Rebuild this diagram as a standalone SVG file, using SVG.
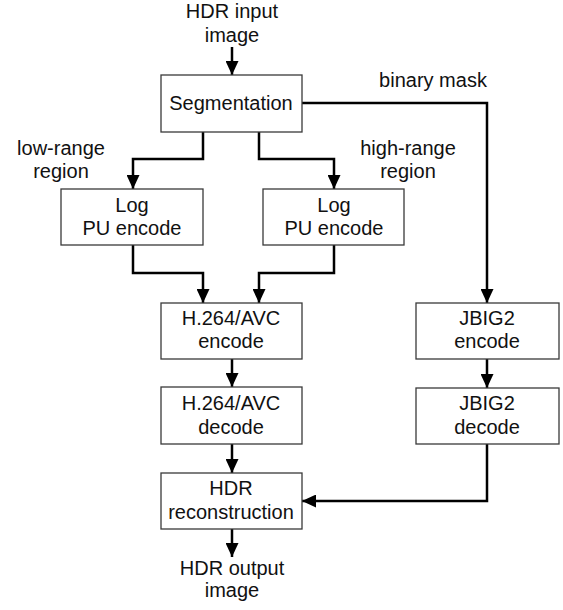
<svg xmlns="http://www.w3.org/2000/svg" width="563" height="610" viewBox="0 0 563 610">
<style>
.box{fill:#fff;stroke:#3a3a3a;stroke-width:1.3}
.t{font-family:"Liberation Sans",Arial,sans-serif;font-size:20px;fill:#111;text-anchor:middle}
.c{fill:none;stroke:#000;stroke-width:2.5}
</style>
<defs>
<marker id="ah" markerWidth="14" markerHeight="13" refX="14" refY="6.5" orient="auto" markerUnits="userSpaceOnUse">
<path d="M0,0 L14,6.5 L0,13 Z" fill="#000"/>
</marker>
</defs>
<g id="connectors">
<path class="c" d="M232,47 V75" marker-end="url(#ah)"/>
<path class="c" d="M203,132 V159 H133 V189" marker-end="url(#ah)"/>
<path class="c" d="M259,132 V159 H334 V189" marker-end="url(#ah)"/>
<path class="c" d="M302,103 H487 V303" marker-end="url(#ah)"/>
<path class="c" d="M133,245 V273 H203 V303" marker-end="url(#ah)"/>
<path class="c" d="M334,245 V273 H259 V303" marker-end="url(#ah)"/>
<path class="c" d="M232,359 V387" marker-end="url(#ah)"/>
<path class="c" d="M487,359 V388" marker-end="url(#ah)"/>
<path class="c" d="M232,444 V473" marker-end="url(#ah)"/>
<path class="c" d="M487,444 V501 H302" marker-end="url(#ah)"/>
<path class="c" d="M232,529 V557" marker-end="url(#ah)"/>
</g>
<g id="input"><text class="t" x="232" y="18">HDR input</text><text class="t" x="232" y="42">image</text></g>
<g id="segmentation"><rect class="box" x="161" y="75" width="141" height="57"/><text class="t" x="231" y="110">Segmentation</text></g>
<g id="label-binary"><text class="t" x="433" y="87">binary mask</text></g>
<g id="label-low"><text class="t" x="61" y="155">low-range</text><text class="t" x="61" y="178">region</text></g>
<g id="label-high"><text class="t" x="408" y="155">high-range</text><text class="t" x="408" y="178">region</text></g>
<g id="log-left"><rect class="box" x="61" y="189" width="142" height="56"/><text class="t" x="132" y="212">Log</text><text class="t" x="132" y="235">PU encode</text></g>
<g id="log-right"><rect class="box" x="263" y="189" width="141" height="56"/><text class="t" x="334" y="212">Log</text><text class="t" x="334" y="235">PU encode</text></g>
<g id="h264-encode"><rect class="box" x="161" y="303" width="141" height="56"/><text class="t" x="231" y="325">H.264/AVC</text><text class="t" x="231" y="348">encode</text></g>
<g id="jbig2-encode"><rect class="box" x="416" y="303" width="143" height="56"/><text class="t" x="487" y="325">JBIG2</text><text class="t" x="487" y="348">encode</text></g>
<g id="h264-decode"><rect class="box" x="161" y="387" width="141" height="57"/><text class="t" x="231" y="410">H.264/AVC</text><text class="t" x="231" y="434">decode</text></g>
<g id="jbig2-decode"><rect class="box" x="416" y="388" width="143" height="56"/><text class="t" x="487" y="410">JBIG2</text><text class="t" x="487" y="434">decode</text></g>
<g id="hdr-recon"><rect class="box" x="161" y="473" width="141" height="56"/><text class="t" x="231" y="495">HDR</text><text class="t" x="231" y="519">reconstruction</text></g>
<g id="output"><text class="t" x="232" y="575">HDR output</text><text class="t" x="232" y="597">image</text></g>
</svg>
